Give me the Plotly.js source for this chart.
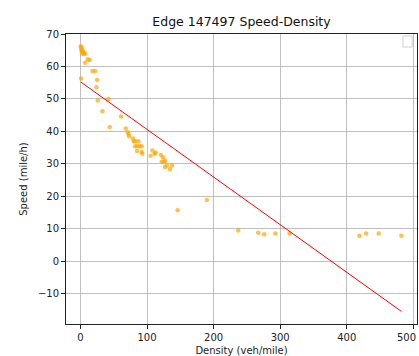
<!DOCTYPE html>
<html>
<head>
<meta charset="utf-8">
<script src="https://cdn.plot.ly/plotly-3.0.1.min.js"></script>
<style>html,body{margin:0;padding:0;background:#fff;overflow:hidden;}#chart{width:419px;height:356px;}</style>
</head>
<body>
<div id="chart"></div>
<script>
// Observed density (veh/mile) and speed (mile/h)
const density = [0.5, 1, 2, 1.5, 3, 2.5, 4, 5, 7, 7, 11, 14, 18, 22, 1, 25, 24, 26, 42, 33, 61, 44, 68, 71, 72.5, 73, 79, 80, 82, 87, 82, 85, 89, 92, 85, 92, 93, 108, 113, 111.5, 105.5, 121, 124, 122, 125, 127.5, 130, 127, 134.5, 137.5, 146, 190, 237, 267, 276, 292.6, 314, 419, 429, 448, 482];
const speed = [66.2, 65.5, 65.8, 64.8, 65, 64, 64.5, 63.8, 64, 61.1, 62.2, 62, 58.6, 58.6, 56.3, 55.8, 53.6, 49.5, 50, 46.2, 44.6, 41.3, 40.9, 39.7, 39.1, 38.5, 37.8, 36.9, 36.9, 36.9, 35.4, 35.4, 35.4, 35.4, 33.9, 33.6, 33.1, 34.1, 33.5, 33.1, 32.5, 32.7, 31.9, 30.6, 30.6, 30.9, 29.5, 29, 28.4, 29.5, 15.7, 18.8, 9.4, 8.7, 8.3, 8.5, 8.5, 7.8, 8.5, 8.5, 7.8];
// Fitted linear regression line endpoints
const fitDensity = [0.5, 482];
const fitSpeed = [55.2, -15.5];
const xTicks = [0, 100, 200, 300, 400, 500];
const xTickText = ['0', '100', '200', '300', '400', ''];
const edgeTickLabel = '500';
const yTicks = [-10, 0, 10, 20, 30, 40, 50, 60, 70];

const font = "DejaVu Sans, sans-serif";
const traces = [
  {x: density, y: speed, type: 'scatter', mode: 'markers',
   marker: {color: 'rgba(255,165,0,0.7)', size: 4.5, line: {width: 0}}, showlegend: false},
  {x: fitDensity, y: fitSpeed, type: 'scatter', mode: 'lines',
   line: {color: '#ff0000', width: 1}, showlegend: false}
];
const axisCommon = {
  showline: true, mirror: true, linecolor: '#222', linewidth: 1,
  ticks: 'outside', ticklen: 4, tickcolor: '#222', tickwidth: 1,
  showgrid: true, gridcolor: '#b0b0b0', gridwidth: 0.8, zeroline: false,
  tickfont: {family: font, size: 10, color: '#222'}
};
const layout = {
  width: 419, height: 356,
  margin: {l: 66, r: 2, t: 34, b: 32},
  paper_bgcolor: '#fff', plot_bgcolor: '#fff',
  title: {text: 'Edge 147497 Speed-Density', font: {family: font, size: 12.5, color: '#111'},
          x: 0.5, xref: 'paper', xanchor: 'center', y: 1 - 22/356, yref: 'container', yanchor: 'middle'},
  xaxis: Object.assign({}, axisCommon, {range: [-21.7, 505.5], tickvals: xTicks, ticktext: xTickText,
    title: {text: 'Density (veh/mile)', font: {family: font, size: 10, color: '#222'}, standoff: 4}}),
  yaxis: Object.assign({}, axisCommon, {range: [-19.4, 70], tickvals: yTicks,
    title: {text: 'Speed (mile/h)', font: {family: font, size: 10, color: '#222'}, standoff: 8}}),
  annotations: [{x: 1.004, xref: 'paper', y: 0, yref: 'paper', yshift: -6, text: edgeTickLabel,
    showarrow: false, xanchor: 'right', yanchor: 'top', font: {family: font, size: 10, color: '#222'}}],
  shapes: [{type: 'rect', xref: 'paper', yref: 'paper', x0: 0.960, x1: 0.986, y0: 0.955, y1: 0.993,
            line: {color: '#d0d0d0', width: 1}, fillcolor: 'rgba(255,255,255,0.8)'}]
};
Plotly.newPlot('chart', traces, layout, {displayModeBar: false, staticPlot: true});
</script>
</body>
</html>
